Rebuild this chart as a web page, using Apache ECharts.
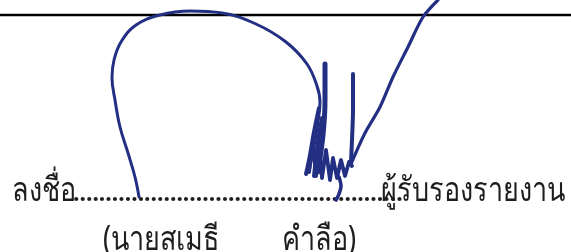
<!DOCTYPE html>
<html>
<head>
<meta charset="utf-8">
<script src="https://cdn.jsdelivr.net/npm/echarts@6/dist/echarts.min.js"></script>
<style>
  html, body { margin: 0; padding: 0; background: #fff; }
  #chart { width: 571px; height: 252px; }
</style>
</head>
<body>
<div id="chart"></div>
<script>
// texts
var signLabel = 'ลงชื่อ'
var signDots = '...................................................'
var signRole = 'ผู้รับรองรายงาน'
var signName = '(นายสเมธี'
var signSurname = 'คำลือ)'

// ruled line at the top of the page
var ruleLine = [[0, 15], [571, 15]]

// signature strokes (x right, y down)
var loopStroke = [[139, 197], [135, 177], [128, 153], [120, 127], [115, 100], [112, 78],
  [114, 60], [121, 42], [136, 25], [160, 15], [190, 11], [222, 13], [256, 24], [286, 42],
  [307, 64], [317, 86], [320, 102], [318, 122], [314, 146], [309, 172]]
var stemLeft = [[325, 64], [325, 100], [323, 135], [318, 172]]
var blobLeft = [[319, 108], [314, 132], [310, 155], [306, 174]]
var blobMid = [[322, 118], [318, 142], [314, 176]]
var scribble = [[309, 172], [313, 140], [316, 176], [319, 145], [322, 178], [326, 150],
  [330, 180], [333, 158], [337, 178], [341, 160], [345, 176], [349, 162], [352, 166]]
var stemRight = [[353, 74], [353, 110], [352, 140], [351, 162]]
var sweep = [[351, 164], [365, 133], [380, 107], [393, 77], [408, 47], [423, 17], [438, 0]]
var tail = [[339, 177], [341, 186], [339, 194], [336, 200]]

var ink = '#232f82'
var textFill = '#1e1e1e'
var textFont = '27px "Noto Sans", sans-serif'

function stroke (data, width, smooth) {
  return {
    type: 'line',
    data: data,
    smooth: smooth,
    symbol: 'none',
    silent: true,
    lineStyle: { color: ink, width: width, cap: 'round', join: 'round' }
  }
}

function label (text, x, y, align) {
  return {
    type: 'text',
    x: x,
    y: y,
    scaleY: 1.25,
    style: { text: text, font: textFont, fill: textFill, align: align, verticalAlign: 'middle' }
  }
}

var chart = echarts.init(document.getElementById('chart'))
chart.setOption({
  animation: false,
  grid: { left: 0, right: 0, top: 0, bottom: 0 },
  xAxis: { type: 'value', min: 0, max: 571, show: false },
  yAxis: { type: 'value', min: 0, max: 252, inverse: true, show: false },
  series: [
    {
      type: 'line',
      data: ruleLine,
      symbol: 'none',
      silent: true,
      lineStyle: { color: '#000', width: 2.6 }
    },
    stroke(loopStroke, 3, 0.4),
    stroke(stemLeft, 5, 0.3),
    stroke(blobLeft, 4, 0.3),
    stroke(blobMid, 4, 0.3),
    stroke(scribble, 3.8, false),
    stroke(stemRight, 4, 0.3),
    stroke(sweep, 3.2, 0.3),
    stroke(tail, 3.6, 0.3)
  ],
  graphic: [
    label(signLabel, 12, 191, 'left'),
    {
      type: 'text',
      x: 73,
      y: 194,
      style: { text: signDots, font: 'bold 23px "Noto Sans", sans-serif', fill: textFill, verticalAlign: 'middle' }
    },
    label(signRole, 565, 191, 'right'),
    label(signName, 103, 240, 'left'),
    label(signSurname, 282, 240, 'left')
  ]
})
</script>
</body>
</html>
